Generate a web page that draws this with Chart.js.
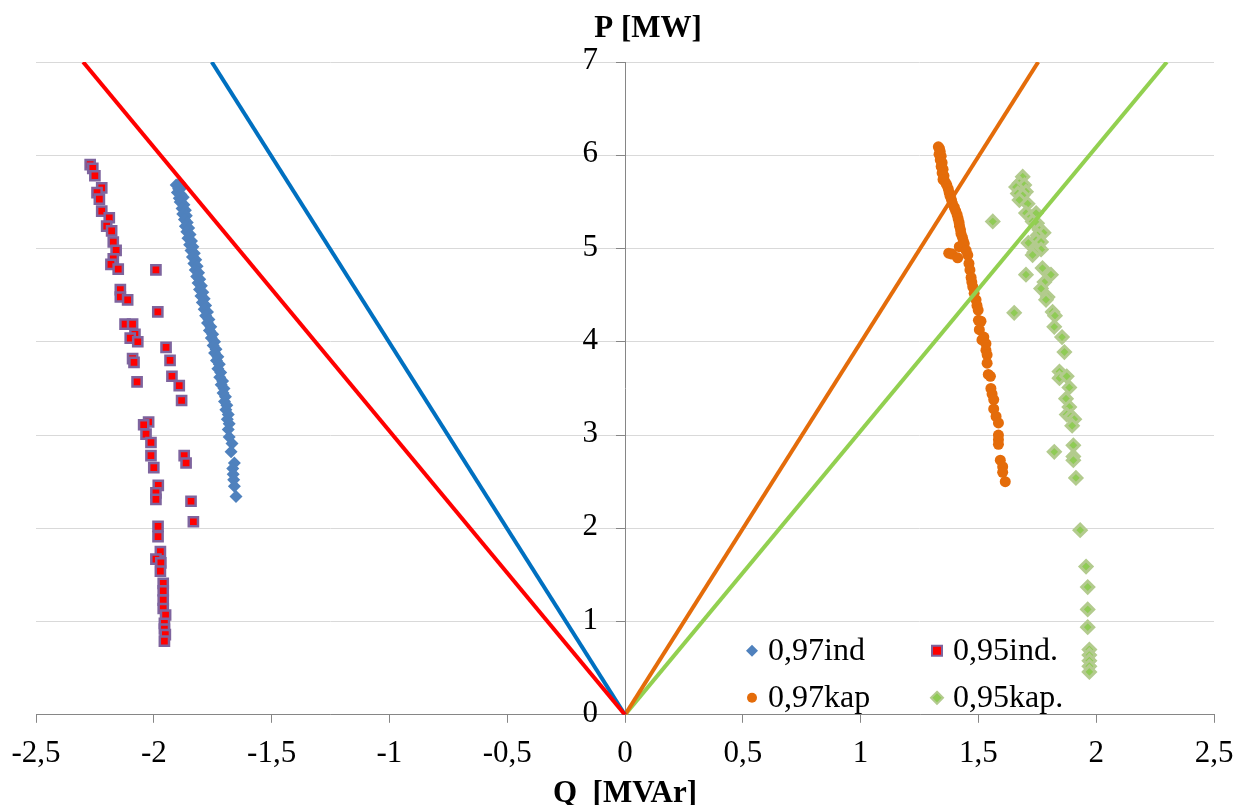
<!DOCTYPE html>
<html>
<head>
<meta charset="utf-8">
<script src="https://cdn.jsdelivr.net/npm/chart.js@4.4.1/dist/chart.umd.min.js"></script>
<style>
  body { margin: 0; background: #fff; }
  #wrap { width: 1234px; height: 805px; }
</style>
</head>
<body>
<div id="wrap"><canvas id="myChart" width="1234" height="805"></canvas></div>
<script>
// [Q, P] pairs
var ind097 = [[-1.905,5.68],[-1.890,5.70],[-1.895,5.64],[-1.880,5.66],[-1.900,5.60],[-1.885,5.58],[-1.892,5.54],[-1.875,5.55],
  [-1.888,5.50],[-1.872,5.47],[-1.880,5.43],[-1.866,5.41],[-1.877,5.37],[-1.862,5.35],[-1.870,5.31],[-1.858,5.28],
  [-1.866,5.24],[-1.852,5.22],[-1.860,5.18],[-1.846,5.15],[-1.855,5.11],[-1.840,5.08],[-1.848,5.04],[-1.834,5.02],
  [-1.842,4.98],[-1.828,4.95],[-1.836,4.91],[-1.822,4.88],[-1.830,4.84],[-1.816,4.81],[-1.824,4.77],[-1.810,4.74],
  [-1.818,4.70],[-1.805,4.67],[-1.812,4.63],[-1.798,4.60],[-1.806,4.56],[-1.792,4.53],[-1.800,4.49],[-1.786,4.46],
  [-1.794,4.42],[-1.780,4.39],[-1.786,4.35],[-1.772,4.32],[-1.780,4.28],[-1.766,4.24],[-1.772,4.20],[-1.758,4.16],
  [-1.764,4.12],[-1.750,4.08],[-1.756,4.04],[-1.742,4.00],[-1.748,3.96],[-1.736,3.92],[-1.742,3.88],[-1.728,3.84],
  [-1.734,3.80],[-1.722,3.76],[-1.728,3.71],[-1.716,3.67],[-1.720,3.62],[-1.708,3.58],[-1.714,3.54],[-1.702,3.50],
  [-1.706,3.45],[-1.696,3.41],[-1.700,3.36],[-1.690,3.32],[-1.694,3.27],[-1.684,3.22],[-1.688,3.17],[-1.680,3.12],
  [-1.684,3.06],[-1.680,2.98],[-1.668,2.91],[-1.672,2.82],[-1.658,2.70],[-1.665,2.64],[-1.663,2.58],[-1.661,2.52],
  [-1.658,2.45],[-1.651,2.34]];

var ind095 = [[-2.270,5.90],[-2.259,5.86],[-2.250,5.78],[-2.221,5.65],[-2.241,5.60],[-2.231,5.53],[-2.221,5.40],
  [-2.189,5.33],[-2.200,5.24],[-2.179,5.19],[-2.172,5.07],[-2.160,4.98],[-2.172,4.89],[-2.182,4.83],[-2.151,4.78],
  [-1.991,4.77],[-2.142,4.56],[-2.142,4.48],[-2.111,4.45],[-1.983,4.32],[-2.122,4.19],[-2.090,4.19],[-2.080,4.08],
  [-2.100,4.04],[-2.068,4.00],[-1.948,3.94],[-2.090,3.82],[-2.084,3.78],[-1.931,3.80],[-1.923,3.63],[-2.071,3.57],
  [-1.892,3.53],[-1.882,3.37],[-2.022,3.14],[-2.043,3.11],[-2.033,3.01],[-2.012,2.92],[-2.012,2.78],[-1.871,2.78],
  [-1.863,2.70],[-2.000,2.65],[-1.981,2.46],[-1.991,2.38],[-1.991,2.31],[-1.842,2.29],[-1.832,2.07],[-1.982,2.02],
  [-1.982,1.91],[-1.972,1.75],[-1.991,1.67],[-1.970,1.63],[-1.972,1.54],[-1.960,1.41],[-1.960,1.33],[-1.960,1.23],
  [-1.960,1.14],[-1.950,1.07],[-1.955,0.98],[-1.955,0.92],[-1.951,0.86],[-1.955,0.79]];

var kap097 = [[1.330,6.09],[1.335,6.07],[1.338,6.04],[1.333,6.01],[1.342,5.99],[1.338,5.95],[1.346,5.92],[1.342,5.88],
  [1.350,5.85],[1.346,5.81],[1.354,5.78],[1.350,5.74],[1.360,5.71],[1.366,5.68],[1.372,5.64],[1.376,5.60],
  [1.380,5.56],[1.386,5.52],[1.390,5.48],[1.398,5.44],[1.404,5.40],[1.410,5.36],[1.414,5.32],[1.418,5.28],
  [1.420,5.24],[1.424,5.20],[1.426,5.16],[1.432,5.12],[1.436,5.08],[1.440,5.05],[1.419,5.02],[1.374,4.95],
  [1.388,4.94],[1.412,4.90],[1.455,4.93],[1.448,4.98],[1.460,4.84],[1.464,4.77],[1.469,4.69],[1.472,4.64],
  [1.476,4.59],[1.482,4.52],[1.490,4.45],[1.494,4.39],[1.499,4.34],[1.500,4.23],[1.511,4.22],[1.504,4.13],
  [1.523,4.05],[1.515,4.02],[1.532,3.98],[1.532,3.91],[1.537,3.86],[1.537,3.77],[1.542,3.65],[1.551,3.63],
  [1.553,3.50],[1.558,3.44],[1.565,3.38],[1.565,3.28],[1.575,3.20],[1.585,3.13],[1.585,3.00],[1.585,2.95],
  [1.585,2.90],[1.593,2.73],[1.603,2.66],[1.603,2.60],[1.614,2.50]];

var kap095 = [[1.688,5.77],[1.674,5.70],[1.695,5.68],[1.660,5.66],[1.702,5.61],[1.667,5.59],[1.688,5.57],[1.674,5.52],
  [1.709,5.48],[1.702,5.38],[1.723,5.34],[1.745,5.38],[1.730,5.29],[1.749,5.27],[1.759,5.20],[1.777,5.17],
  [1.751,5.14],[1.745,5.09],[1.766,5.07],[1.712,5.06],[1.766,4.99],[1.737,4.96],[1.730,4.93],[1.772,4.79],
  [1.702,4.72],[1.808,4.72],[1.780,4.64],[1.766,4.57],[1.794,4.48],[1.561,5.29],[1.787,4.45],[1.652,4.31],
  [1.815,4.32],[1.825,4.28],[1.822,4.16],[1.855,4.05],[1.865,3.89],[1.844,3.68],[1.844,3.61],[1.875,3.63],
  [1.886,3.51],[1.872,3.39],[1.886,3.30],[1.875,3.22],[1.893,3.20],[1.907,3.17],[1.898,3.10],[1.903,2.89],
  [1.822,2.82],[1.903,2.77],[1.903,2.73],[1.914,2.54],[1.932,1.98],[1.957,1.59],[1.964,1.37],[1.964,1.13],
  [1.964,0.94],[1.971,0.70],[1.971,0.64],[1.971,0.58],[1.971,0.52],[1.971,0.46]];

// power factor limit lines, from origin to P = 7
var lineInd095 = [[0,0],[-2.30,7]];
var lineInd097 = [[0,0],[-1.754,7]];
var lineKap097 = [[0,0],[1.754,7]];
var lineKap095 = [[0,0],[2.30,7]];

var legendLabels = ["0,97ind", "0,95ind.", "0,97kap", "0,95kap."];

function toXY(arr) {
  return arr.map(function (p) { return { x: p[0], y: p[1] }; });
}

function limitLine(arr, color) {
  return { data: toXY(arr), showLine: true, borderColor: color, borderWidth: 4, pointRadius: 0, order: 0 };
}

var serif = "'Liberation Serif', 'Times New Roman', serif";

function marker(ctx, style, x, y) {
  ctx.save();
  ctx.fillStyle = style.fill;
  ctx.strokeStyle = style.stroke;
  ctx.lineWidth = style.lw;
  ctx.beginPath();
  if (style.shape === 'diamond') {
    ctx.moveTo(x, y - style.r); ctx.lineTo(x + style.r, y); ctx.lineTo(x, y + style.r); ctx.lineTo(x - style.r, y);
    ctx.closePath();
  } else if (style.shape === 'square') {
    ctx.rect(x - style.r, y - style.r, style.r * 2, style.r * 2);
  } else {
    ctx.arc(x, y, style.r, 0, Math.PI * 2);
  }
  ctx.fill();
  if (style.lw) ctx.stroke();
  ctx.restore();
}

var legendStyles = [
  { shape: 'diamond', r: 6, fill: '#4F81BD', stroke: '#4F81BD', lw: 0 },
  { shape: 'square', r: 5, fill: '#FF0000', stroke: '#7E649E', lw: 2 },
  { shape: 'circle', r: 5, fill: '#E46C0A', stroke: '#E46C0A', lw: 0 },
  { shape: 'diamond', r: 6, fill: '#8FCB55', stroke: '#B3CB8E', lw: 2 }
];

var extras = {
  id: 'extras',
  afterDraw: function (chart) {
    var ctx = chart.ctx;
    var a = chart.chartArea;
    var yScale = chart.scales.y;
    var x0 = chart.scales.x.getPixelForValue(0);

    ctx.save();
    ctx.fillStyle = '#000';

    // y tick labels, left of the centred axis
    ctx.font = "31px " + serif;
    ctx.textAlign = 'right';
    ctx.textBaseline = 'middle';
    yScale.ticks.forEach(function (t) {
      ctx.fillText(String(t.value), x0 - 27, yScale.getPixelForValue(t.value) - 1);
    });

    ctx.font = "bold 31px " + serif;
    ctx.textAlign = 'center';
    ctx.fillText("P [MW]", x0 + 23, 29);
    ctx.fillText("Q  [MVAr]", (a.left + a.right) / 2, 794);

    ctx.font = "32px " + serif;
    ctx.textAlign = 'left';
    var cols = [a.right - 462, a.right - 277];
    var rows = [a.bottom - 64, a.bottom - 17];
    for (var i = 0; i < legendLabels.length; i++) {
      var cx = cols[i % 2], cy = rows[Math.floor(i / 2)];
      marker(ctx, legendStyles[i], cx, cy);
      ctx.fillText(legendLabels[i], cx + 16, cy + 1);
    }
    ctx.restore();
  }
};

var ctx = document.getElementById("myChart");
var myChart = new Chart(ctx, {
  type: 'scatter',
  data: {
    datasets: [
      limitLine(lineInd095, '#FF0000'),
      limitLine(lineInd097, '#0070C0'),
      limitLine(lineKap097, '#E46C0A'),
      limitLine(lineKap095, '#92D050'),
      {
        label: legendLabels[0], data: toXY(ind097), order: 1,
        pointStyle: 'rectRot', pointRadius: 6.5, backgroundColor: '#4F81BD', borderColor: '#4F81BD', borderWidth: 0
      },
      {
        label: legendLabels[1], data: toXY(ind095), order: 1,
        pointStyle: 'rect', pointRadius: 6.5, backgroundColor: '#FF0000', borderColor: '#7E649E', borderWidth: 2.5
      },
      {
        label: legendLabels[2], data: toXY(kap097), order: 1,
        pointStyle: 'circle', pointRadius: 5.5, backgroundColor: '#E46C0A', borderColor: '#E46C0A', borderWidth: 0
      },
      {
        label: legendLabels[3], data: toXY(kap095), order: 1,
        pointStyle: 'rectRot', pointRadius: 6, backgroundColor: '#8FCB55', borderColor: '#B3CB8E', borderWidth: 3
      }
    ]
  },
  options: {
    responsive: false,
    devicePixelRatio: 1,
    animation: false,
    layout: { padding: { top: 62, left: 36, right: 20, bottom: 21 } },
    plugins: {
      legend: { display: false },
      tooltip: { enabled: false }
    },
    scales: {
      x: {
        type: 'linear',
        min: -2.5,
        max: 2.5,
        border: { color: '#868686', width: 1 },
        grid: { drawOnChartArea: false, drawTicks: true, tickLength: 8, tickColor: '#868686' },
        ticks: {
          stepSize: 0.5,
          padding: 12,
          color: '#000',
          font: { family: serif, size: 31 },
          callback: function (v) { return String(v).replace('.', ','); }
        },
        afterFit: function (scale) {
          scale.paddingLeft = 20;
          scale.paddingRight = 20;
        }
      },
      y: {
        type: 'linear',
        position: { x: 0 },
        min: 0,
        max: 7,
        border: { color: '#868686', width: 1 },
        grid: { color: '#D9D9D9', lineWidth: 1, tickLength: 9, tickColor: '#868686' },
        ticks: { stepSize: 1, display: false }
      }
    }
  },
  plugins: [extras]
});
</script>
</body>
</html>
